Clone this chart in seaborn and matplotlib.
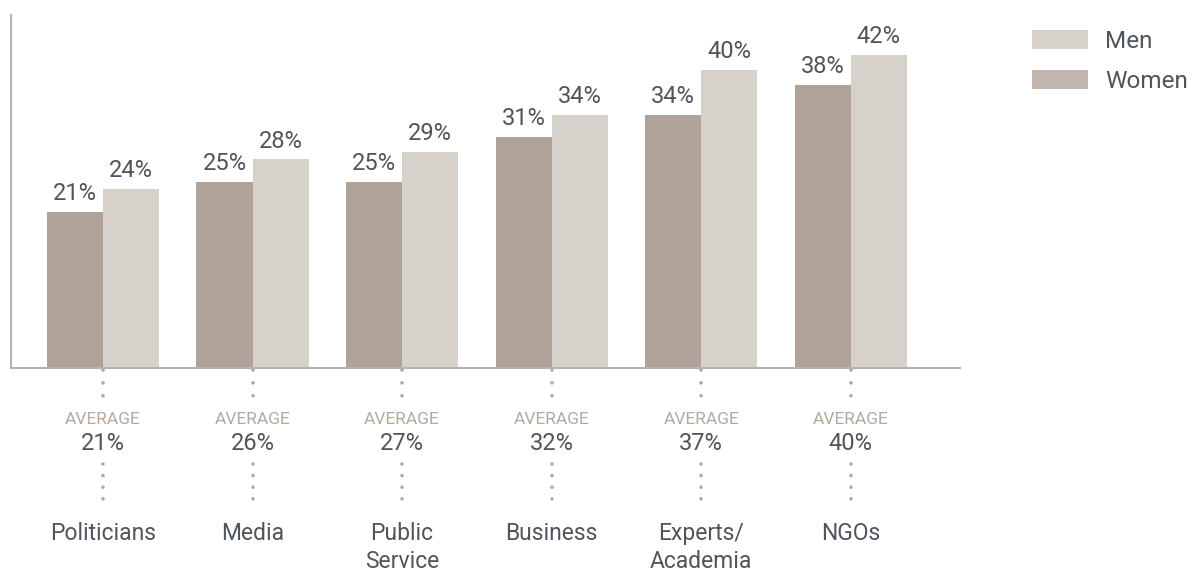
import matplotlib
matplotlib.use("Agg")
import matplotlib.pyplot as plt
import matplotlib.transforms as mtransforms
from matplotlib.patches import Patch
import seaborn as sns
import pandas as pd

categories = ["Politicians", "Media", "Public\nService", "Business", "Experts/\nAcademia", "NGOs"]
women = [21, 25, 25, 31, 34, 38]
men = [24, 28, 29, 34, 40, 42]
averages = [21, 26, 27, 32, 37, 40]
series = ["Women", "Men"]

df = pd.DataFrame({
    "category": categories * 2,
    "value": women + men,
    "series": ["Women"] * len(categories) + ["Men"] * len(categories),
})

C_WOMEN = "#afa399"
C_MEN = "#d6d1cb"
C_TEXT = "#50555b"
C_AVG = "#b5a89e"
C_AXIS = "#b3b3b3"
C_DOT = "#aaaaaa"

sns.set_theme(style="white")
plt.rcParams["font.family"] = ["Roboto", "DejaVu Sans"]

fig = plt.figure(figsize=(12, 5.71), dpi=100)
ax = fig.add_axes([11 / 1200, 1 - 368 / 571, (960 - 11) / 1200, (368 - 15) / 571])

sns.barplot(data=df, x="category", y="value", hue="series", hue_order=series,
            palette={"Women": C_WOMEN, "Men": C_MEN}, order=categories,
            width=0.75, saturation=1, ax=ax, legend=False, linewidth=0)

ax.set_ylim(0, 47.4)
ax.set_xlim(-0.615, 5.73)
ax.set_xlabel("")
ax.set_ylabel("")
ax.set_yticks([])
for s in ["top", "right"]:
    ax.spines[s].set_visible(False)
for s in ["left", "bottom"]:
    ax.spines[s].set_color(C_AXIS)
    ax.spines[s].set_linewidth(1.5)

for cont in ax.containers:
    labels = [f"{v:.0f}%" for v in cont.datavalues]
    ax.bar_label(cont, labels=labels, padding=5, fontsize=17, color=C_TEXT)

ax.set_xticks(range(len(categories)))
ax.set_xticklabels(categories, fontsize=16.5, color=C_TEXT, linespacing=1.25)
ax.tick_params(axis="x", length=0, pad=111)

trans = mtransforms.blended_transform_factory(ax.transData, fig.transFigure)

def fy(ypix):
    return 1 - ypix / 571

for i, avg in enumerate(averages):
    ax.plot([i, i], [fy(370), fy(400)], transform=trans, clip_on=False,
            color=C_DOT, lw=2.6, linestyle=(0, (0.01, 3.55)), dash_capstyle="round")
    ax.plot([i, i], [fy(464), fy(508)], transform=trans, clip_on=False,
            color=C_DOT, lw=2.6, linestyle=(0, (0.01, 3.2)), dash_capstyle="round")
    ax.text(i, fy(419), "AVERAGE", transform=trans, ha="center", va="center",
            fontsize=12.5, color=C_AVG)
    ax.text(i, fy(444), f"{avg}%", transform=trans, ha="center", va="center",
            fontsize=17, color=C_TEXT)

handles = [Patch(facecolor=C_MEN, edgecolor="none", label="Men"),
           Patch(facecolor="#c2b7b0", edgecolor="none", label="Women")]
fig.legend(handles=handles, loc="upper left", bbox_to_anchor=(1010 / 1200, 1 - 8 / 571),
           frameon=False, handlelength=2.3, handleheight=0.85,
           handletextpad=0.7, labelspacing=0.7, labelcolor=C_TEXT,
           prop={"size": 17.5})

fig.savefig("out.png", dpi=100)
